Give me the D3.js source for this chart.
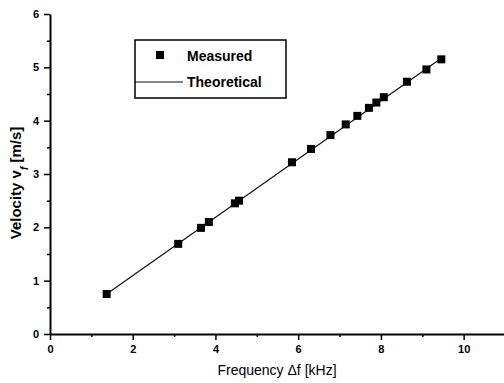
<!doctype html>
<html>
<head>
<meta charset="utf-8">
<script src="https://d3js.org/d3.v7.min.js"></script>
<style>
  body { margin: 0; background: #fff; }
  svg { display: block; font-family: "Liberation Sans", Arial, sans-serif; }
</style>
</head>
<body>
<svg id="chart" width="504" height="383"></svg>
<script>
// measured points: frequency [kHz] and velocity [m/s]
const freq = [1.37, 3.10, 3.65, 3.84, 4.47, 4.57, 5.85, 6.31, 6.78, 7.15, 7.43, 7.71, 7.89, 8.07, 8.63, 9.10, 9.46];
const vel  = [0.75, 1.69, 1.99, 2.10, 2.45, 2.50, 3.22, 3.47, 3.73, 3.93, 4.09, 4.24, 4.34, 4.44, 4.73, 4.96, 5.15];

// theoretical line end points
const theoFreq = [1.37, 9.46];
const theoVel  = [0.75, 5.17];

const xTicks = [0, 2, 4, 6, 8, 10];
const xMinor = [1, 3, 5, 7, 9, 11];
const yTicks = [0, 1, 2, 3, 4, 5, 6];
const yMinor = [0.5, 1.5, 2.5, 3.5, 4.5, 5.5];

const svg = d3.select("#chart");

const x = d3.scaleLinear().domain([0, 11]).range([50, 505]);
const y = d3.scaleLinear().domain([0, 6]).range([334, 14]);

// minor ticks
svg.append("g")
  .attr("transform", "translate(0,334)")
  .call(d3.axisBottom(x).tickValues(xMinor).tickSize(3).tickFormat(""))
  .call(g => g.select(".domain").remove())
  .selectAll("line").attr("stroke-width", 1.5);

svg.append("g")
  .attr("transform", "translate(50,0)")
  .call(d3.axisLeft(y).tickValues(yMinor).tickSize(3).tickFormat(""))
  .call(g => g.select(".domain").remove())
  .selectAll("line").attr("stroke-width", 1.5);

// major axes
const xAxis = svg.append("g")
  .attr("transform", "translate(0,334)")
  .call(d3.axisBottom(x).tickValues(xTicks).tickSize(6).tickSizeOuter(0).tickPadding(5).tickFormat(d3.format("d")));
xAxis.select(".domain").attr("stroke-width", 2);
xAxis.selectAll("line").attr("stroke-width", 1.5);
xAxis.selectAll("text").attr("font-size", 11).attr("font-weight", "bold")
  .attr("font-family", "Liberation Sans, Arial, sans-serif");

const yAxis = svg.append("g")
  .attr("transform", "translate(50,0)")
  .call(d3.axisLeft(y).tickValues(yTicks).tickSize(6).tickSizeOuter(0).tickPadding(5).tickFormat(d3.format("d")));
yAxis.select(".domain").attr("stroke-width", 2);
yAxis.selectAll("line").attr("stroke-width", 1.5);
yAxis.selectAll("text").attr("font-size", 11).attr("font-weight", "bold")
  .attr("font-family", "Liberation Sans, Arial, sans-serif");

// theoretical line
const theo = theoFreq.map((f, i) => [f, theoVel[i]]);
svg.append("path")
  .datum(theo)
  .attr("fill", "none")
  .attr("stroke", "#111")
  .attr("stroke-width", 1.2)
  .attr("d", d3.line().x(d => x(d[0])).y(d => y(d[1])));

// measured squares
const pts = freq.map((f, i) => ({ f: f, v: vel[i] }));
svg.append("g")
  .selectAll("rect")
  .data(pts)
  .join("rect")
    .attr("x", d => x(d.f) - 4)
    .attr("y", d => y(d.v) - 4)
    .attr("width", 8)
    .attr("height", 8)
    .attr("fill", "#000");

// legend
const leg = svg.append("g");
leg.append("rect")
  .attr("x", 135).attr("y", 40).attr("width", 151).attr("height", 58)
  .attr("fill", "none").attr("stroke", "#000").attr("stroke-width", 1.5);
leg.append("rect")
  .attr("x", 156).attr("y", 51).attr("width", 8).attr("height", 8).attr("fill", "#000");
leg.append("text")
  .attr("x", 187).attr("y", 61).attr("font-size", 14).attr("font-weight", "bold").text("Measured");
leg.append("line")
  .attr("x1", 135).attr("x2", 183).attr("y1", 82).attr("y2", 82)
  .attr("stroke", "#111").attr("stroke-width", 1.2);
leg.append("text")
  .attr("x", 187).attr("y", 87).attr("font-size", 14).attr("font-weight", "bold").text("Theoretical");

// axis titles
svg.append("text")
  .attr("x", 277).attr("y", 375)
  .attr("text-anchor", "middle")
  .attr("font-size", 14)
  .text("Frequency \u0394f [kHz]");

const yt = svg.append("text")
  .attr("transform", "translate(21,183) rotate(-90)")
  .attr("text-anchor", "middle")
  .attr("font-size", 15)
  .attr("font-weight", "bold");
yt.append("tspan").text("Velocity   v");
yt.append("tspan").attr("font-size", 10).attr("dy", 7).attr("font-style", "italic").text("f");
yt.append("tspan").attr("dy", -7).text(" [m/s]");
</script>
</body>
</html>
